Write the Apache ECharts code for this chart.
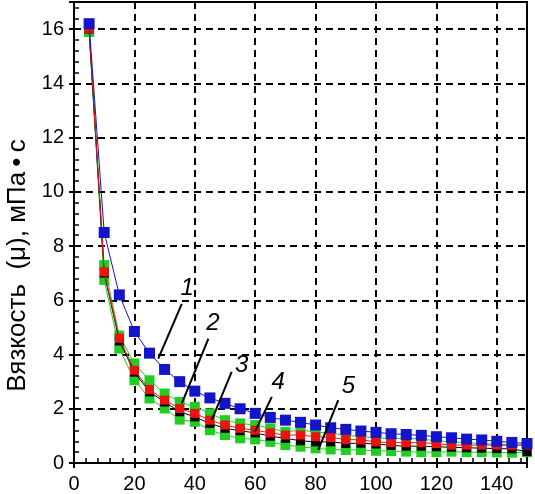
<!DOCTYPE html>
<html>
<head>
<meta charset="utf-8">
<script src="https://cdn.jsdelivr.net/npm/echarts@6/dist/echarts.min.js"></script>
<style>
  html, body { margin: 0; padding: 0; background: #fff; }
  #chart { width: 535px; height: 494px; }
</style>
</head>
<body>
<div id="chart"></div>
<script>
// shear rate, points every 5 units
const xValues = [5, 10, 15, 20, 25, 30, 35, 40, 45, 50, 55, 60, 65, 70, 75,
  80, 85, 90, 95, 100, 105, 110, 115, 120, 125, 130, 135, 140, 145, 150];

// curves 1..5
const curve1 = [16.2, 8.5, 6.2, 4.85, 4.05, 3.45, 3.0, 2.65, 2.4, 2.2, 2.0, 1.83, 1.68, 1.58, 1.5,
  1.4, 1.3, 1.24, 1.18, 1.13, 1.08, 1.05, 1.02, 0.97, 0.93, 0.88, 0.85, 0.8, 0.76, 0.72];
const curve2 = [15.9, 7.3, 4.7, 3.67, 3.05, 2.56, 2.25, 2.07, 1.83, 1.58, 1.46, 1.4, 1.28, 1.15, 1.21,
  1.15, 1.09, 1.03, 0.97, 0.93, 0.9, 0.91, 0.88, 0.82, 0.78, 0.75, 0.72, 0.7, 0.68, 0.66];
const curve3 = [16.0, 7.05, 4.6, 3.42, 2.71, 2.32, 2.01, 1.83, 1.58, 1.4, 1.28, 1.21, 1.11, 1.03, 1.03,
  0.97, 0.94, 0.87, 0.85, 0.78, 0.75, 0.75, 0.75, 0.72, 0.66, 0.66, 0.66, 0.66, 0.65, 0.66];
const curve4 = [16.0, 7.0, 4.5, 3.35, 2.62, 2.25, 1.89, 1.7, 1.46, 1.28, 1.19, 1.11, 0.99, 0.91, 0.82,
  0.78, 0.78, 0.72, 0.73, 0.7, 0.65, 0.62, 0.62, 0.6, 0.58, 0.56, 0.55, 0.53, 0.52, 0.42];
const curve5 = [15.9, 6.75, 4.22, 3.05, 2.38, 2.01, 1.6, 1.52, 1.21, 1.03, 0.91, 0.87, 0.78, 0.66, 0.6,
  0.54, 0.5, 0.48, 0.48, 0.45, 0.44, 0.42, 0.4, 0.4, 0.42, 0.4, 0.4, 0.39, 0.38, 0.4];

// curve number labels and their leader lines, in data units
const curveLabels = ['1', '2', '3', '4', '5'];
const labelPos = [[37.5, 6.45], [46, 5.15], [55.5, 3.6], [67.6, 2.99], [90.9, 2.81]];
const leaderFrom = [[35.7, 5.87], [44.5, 4.59], [52.2, 3.36], [65.5, 2.44], [87.5, 2.32]];
const leaderTo = [[27.9, 3.85], [35.7, 2.2], [45.6, 1.58], [59.9, 1.15], [80.9, 0.48]];

const yAxisTitle = 'Вязкость  (μ), мПа\u2009•\u2009с';

const pairs = (ys) => xValues.map((x, i) => [x, ys[i]]);

const curveSeries = (data, color, z, size) => ({
  type: 'line',
  data: pairs(data),
  symbol: 'rect',
  symbolSize: size,
  z: z,
  lineStyle: { color: color, width: 1 },
  itemStyle: { color: color, opacity: 1 },
  animation: false
});

const chart = echarts.init(document.getElementById('chart'));

chart.setOption({
  backgroundColor: '#fff',
  animation: false,
  textStyle: { fontFamily: 'Liberation Sans, Arial, sans-serif' },
  grid: {
    left: 74, right: 8, top: 2, bottom: 31,
    show: true, borderColor: '#000', borderWidth: 2,
    outerBoundsMode: 'none'
  },
  xAxis: {
    type: 'value',
    min: 0, max: 150, interval: 20,
    axisLine: { lineStyle: { color: '#000', width: 2 } },
    axisTick: { show: true, length: 5, lineStyle: { color: '#000', width: 2 } },
    minorTick: { show: true, splitNumber: 5, length: -5, lineStyle: { color: '#000', width: 1.5 } },
    axisLabel: { color: '#000', fontSize: 20, margin: 11, showMaxLabel: false },
    splitLine: { show: true, lineStyle: { color: '#000', width: 2, type: [7, 5] } }
  },
  yAxis: {
    type: 'value',
    min: 0, max: 17, interval: 2,
    name: yAxisTitle,
    nameLocation: 'middle',
    nameGap: 43,
    nameTextStyle: { color: '#000', fontSize: 26, padding: [0, 66, 0, 0] },
    axisLine: { lineStyle: { color: '#000', width: 2 } },
    axisTick: { show: true, length: 5, lineStyle: { color: '#000', width: 2 } },
    minorTick: { show: true, splitNumber: 5, length: -5, lineStyle: { color: '#000', width: 1.5 } },
    axisLabel: { color: '#000', fontSize: 20, margin: 10, showMaxLabel: false },
    splitLine: { show: true, lineStyle: { color: '#000', width: 2, type: [7, 5] } }
  },
  series: [
    curveSeries(curve5, '#22cc22', 2, 10),
    curveSeries(curve2, '#22cc22', 3, 10),
    curveSeries(curve4, '#000000', 4, 9),
    curveSeries(curve3, '#ee1111', 5, 9),
    curveSeries(curve1, '#1414c8', 6, 11),
    {
      type: 'lines',
      coordinateSystem: 'cartesian2d',
      z: 10,
      lineStyle: { color: '#000', width: 2, opacity: 1 },
      data: leaderFrom.map((p, i) => ({ coords: [p, leaderTo[i]] })),
      animation: false
    },
    {
      type: 'scatter',
      symbolSize: 0,
      z: 11,
      itemStyle: { opacity: 1 },
      data: labelPos.map((p, i) => ({ name: curveLabels[i], value: p })),
      label: {
        show: true,
        position: 'inside',
        formatter: (p) => p.name,
        color: '#000',
        opacity: 1,
        fontSize: 24,
        fontStyle: 'italic'
      },
      animation: false
    }
  ]
});
</script>
</body>
</html>
